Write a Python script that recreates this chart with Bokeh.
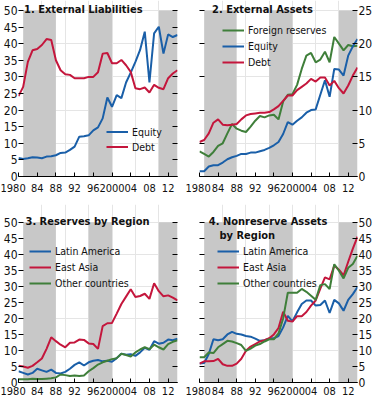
from bokeh.plotting import figure
from bokeh.models import (Range1d, LinearAxis, FixedTicker, BoxAnnotation, Label,
                          Legend, LegendItem, CustomJSTickFormatter)
from bokeh.layouts import column, row
from bokeh.embed import file_html
from bokeh.resources import INLINE

# ---------------- data ----------------
years = list(range(1980, 2015))

liab_equity = [5.6, 5.3, 5.5, 5.8, 5.7, 5.5, 6.0, 6.1, 6.4, 7.1, 7.2, 8.0, 9.0, 12.0, 12.1,
               12.4, 13.9, 14.8, 17.5, 23.8, 21.0, 24.5, 23.6, 28.3, 31.3, 34.5, 38.1, 43.6,
               28.3, 43.1, 45.1, 37.0, 42.8, 42.0, 42.6]
liab_debt = [24.2, 27.0, 34.5, 38.0, 38.4, 39.6, 41.4, 41.1, 35.0, 32.0, 30.8, 30.6, 29.6, 29.6,
             29.6, 30.0, 30.0, 31.4, 37.0, 37.2, 34.1, 34.1, 35.1, 33.5, 31.5, 26.6, 26.3, 26.8,
             25.3, 27.6, 26.7, 26.3, 29.6, 31.0, 32.0]

asset_reserves = [3.8, 3.4, 3.0, 3.7, 4.6, 5.0, 6.5, 7.9, 7.2, 6.9, 6.7, 7.5, 8.4, 9.1, 8.9, 9.2,
                  9.3, 8.6, 11.3, 12.3, 12.4, 13.8, 16.2, 18.2, 18.6, 17.2, 17.6, 18.8, 17.2, 21.0,
                  20.0, 19.0, 19.8, 19.6, 19.7]
asset_equity = [0.8, 0.8, 1.5, 1.7, 1.7, 2.1, 2.6, 2.9, 3.1, 3.4, 3.4, 3.6, 3.6, 3.8, 4.0, 4.3,
                4.7, 5.2, 6.4, 8.2, 7.8, 8.4, 8.9, 9.6, 10.0, 10.1, 12.3, 14.5, 12.0, 16.2, 16.1,
                15.2, 18.2, 19.6, 20.7]
asset_debt = [5.2, 5.5, 6.5, 8.1, 8.6, 7.8, 7.7, 7.8, 7.9, 8.6, 9.2, 9.4, 9.5, 9.6, 9.6, 9.7,
              10.1, 10.6, 11.4, 12.2, 12.2, 13.0, 13.5, 14.0, 14.7, 14.3, 14.9, 14.9, 13.7, 14.4,
              13.3, 12.5, 13.7, 15.2, 16.4]

res_latam = [3.5, 3.0, 2.5, 3.0, 4.3, 3.8, 3.3, 4.0, 3.0, 2.8, 3.3, 4.3, 5.5, 6.3, 5.3, 6.3, 6.8,
             7.0, 6.6, 6.8, 6.5, 7.6, 9.0, 8.7, 8.8, 8.3, 9.4, 10.8, 10.2, 12.9, 12.1, 12.4, 13.4,
             13.2, 13.7]
res_easia = [5.2, 5.0, 4.6, 5.2, 6.3, 7.5, 10.5, 14.1, 12.9, 11.8, 11.0, 12.4, 12.5, 13.4, 13.3,
             12.2, 12.0, 10.5, 17.6, 18.5, 18.6, 21.5, 24.5, 26.8, 29.1, 26.7, 27.0, 27.7, 26.1,
             31.0, 28.5, 26.9, 27.2, 26.5, 25.6]
res_other = [1.0, 1.0, 1.0, 1.2, 1.1, 1.1, 1.2, 1.3, 1.6, 2.5, 2.3, 2.0, 2.2, 2.0, 2.2, 3.5, 4.5,
             5.6, 6.3, 6.8, 7.3, 7.6, 9.0, 8.6, 8.1, 9.4, 10.3, 11.0, 10.4, 11.8, 11.0, 10.3,
             12.0, 12.7, 13.2]

nonres_latam = [5.9, 6.1, 8.9, 13.5, 13.2, 13.5, 15.0, 15.8, 15.2, 15.0, 14.5, 14.3, 13.7, 13.0,
                13.2, 13.7, 13.8, 14.5, 17.2, 20.8, 19.1, 21.9, 24.5, 25.6, 25.6, 24.0, 24.2,
                25.6, 21.7, 25.8, 24.7, 22.4, 25.8, 27.6, 29.8]
nonres_easia = [5.9, 6.6, 6.6, 6.7, 7.4, 5.7, 5.2, 5.2, 5.9, 7.4, 9.9, 11.2, 12.0, 12.8, 13.2,
                13.8, 15.0, 17.0, 22.1, 19.3, 19.0, 20.7, 20.7, 22.0, 24.0, 25.6, 29.3, 32.8,
                32.2, 36.5, 35.2, 33.4, 37.7, 41.8, 45.5]
nonres_other = [7.9, 7.9, 9.4, 9.2, 11.0, 12.0, 13.0, 12.8, 12.3, 11.7, 9.9, 10.6, 11.5, 12.0,
                12.8, 13.5, 13.5, 15.3, 20.0, 28.0, 28.0, 28.0, 29.2, 28.3, 27.1, 25.8, 30.4,
                30.7, 29.2, 36.9, 34.9, 32.5, 35.8, 37.0, 39.6]

shaded_periods = [(1981, 1988), (1995, 2000), (2010, 2014)]
x_ticks = [1980, 1984, 1988, 1992, 1996, 2000, 2004, 2008, 2012]
x_tick_labels = ["1980", "84", "88", "92", "96", "2000", "04", "08", "12"]

# ---------------- style ----------------
FONT = "DejaVu Sans Condensed, Liberation Sans, sans-serif"
GRAY = "#c8c8c8"
BLUE = "#1a5fa8"
RED = "#c4163c"
GREEN = "#3f7f3a"
TXT = "#111111"
NBSP = "\u00a0"

blank = CustomJSTickFormatter(code="return ''")


def make_panel(width, height, borders, ytop, yview, ystep, labels_left, xstandoff):
    L, R, T, B = borders
    p = figure(width=width, height=height, x_range=Range1d(1980, 2014),
               y_range=Range1d(0, yview), output_backend="svg", toolbar_location=None,
               min_border_left=L, min_border_right=R, min_border_top=T, min_border_bottom=B,
               x_axis_location=None, y_axis_location=None)
    p.outline_line_color = None
    p.background_fill_color = "white"
    for a, b in shaded_periods:
        p.add_layout(BoxAnnotation(left=a, right=b, bottom=0, top=ytop, fill_color=GRAY,
                                   fill_alpha=1.0, line_color=None, level="underlay"))
    # the first label sits a little left of its tick, as in the original
    labels = [x_tick_labels[0] + NBSP * 4] + x_tick_labels[1:]
    xa = LinearAxis(ticker=FixedTicker(ticks=x_ticks),
                    major_label_overrides=dict(zip(x_ticks, labels)))
    xa.major_tick_in = 4
    xa.major_tick_out = 0
    xa.minor_tick_line_color = None
    xa.axis_line_color = "black"
    xa.major_tick_line_color = "black"
    xa.major_label_standoff = xstandoff
    xa.major_label_text_font = FONT
    xa.major_label_text_font_size = "11px"
    xa.major_label_text_color = TXT
    p.add_layout(xa, "below")
    yt = list(range(0, ytop + 1, ystep))
    for side in ("left", "right"):
        ya = LinearAxis(ticker=FixedTicker(ticks=yt))
        ya.axis_line_color = None
        ya.major_tick_in = 5
        ya.major_tick_out = 0
        ya.minor_tick_line_color = None
        ya.major_tick_line_color = "black"
        ya.major_label_standoff = 1
        ya.major_label_text_font = FONT
        ya.major_label_text_font_size = "12px"
        ya.major_label_text_color = TXT
        if (side == "left") != labels_left:
            ya.formatter = blank
        p.add_layout(ya, side)
    return p


def add_lines(p, series, loc, h):
    items = []
    for name, vals, col in series:
        r = p.line(years, vals, line_color=col, line_width=2)
        items.append(LegendItem(label=name, renderers=[r]))
    leg = Legend(items=items, location=loc, orientation="vertical", padding=0, margin=0,
                 spacing=0, glyph_width=22, glyph_height=h, label_height=h, label_standoff=4,
                 border_line_color=None, background_fill_alpha=0,
                 label_text_font=FONT, label_text_font_size="10.5px", label_text_color=TXT)
    p.add_layout(leg)


def title(p, x, y, text):
    p.add_layout(Label(x=x, y=y, text=text, text_font=FONT, text_font_style="bold",
                       text_font_size="11px", text_color=TXT, text_baseline="alphabetic"))


p1 = make_panel(185, 200, (16, 8, 0, 24), 50, 53.0, 5, True, 5)
add_lines(p1, [("Equity", liab_equity, BLUE), ("Debt", liab_debt, RED)], (88, 22), 15)
title(p1, 1981.2, 50.3, "1. External Liabilities")

p2 = make_panel(190, 200, (14, 15, 0, 24), 25, 26.5, 5, False, 5)
add_lines(p2, [("Foreign reserves", asset_reserves, GREEN), ("Equity", asset_equity, BLUE),
               ("Debt", asset_debt, RED)], (23, 106), 16)
title(p2, 1982.7, 25.15, "2. External Assets")

p3 = make_panel(185, 200, (16, 8, 4, 16), 50, 55.56, 5, True, 2)
add_lines(p3, [("Latin America", res_latam, BLUE), ("East Asia", res_easia, RED),
               ("Other countries", res_other, GREEN)], (11, 91), 16)
title(p3, 1981.5, 50.3, "3. Reserves by Region")

p4 = make_panel(190, 200, (14, 15, 4, 16), 50, 55.56, 5, False, 2)
add_lines(p4, [("Latin America", nonres_latam, BLUE), ("East Asia", nonres_easia, RED),
               ("Other countries", nonres_other, GREEN)], (18, 91), 16)
title(p4, 1982.0, 50.3, "4. Nonreserve Assets")
title(p4, 1984.3, 45.9, "by Region")

layout = column(row(p1, p2, spacing=0), row(p3, p4, spacing=0), spacing=0)

open("out.html", "w").write(file_html(layout, INLINE))
